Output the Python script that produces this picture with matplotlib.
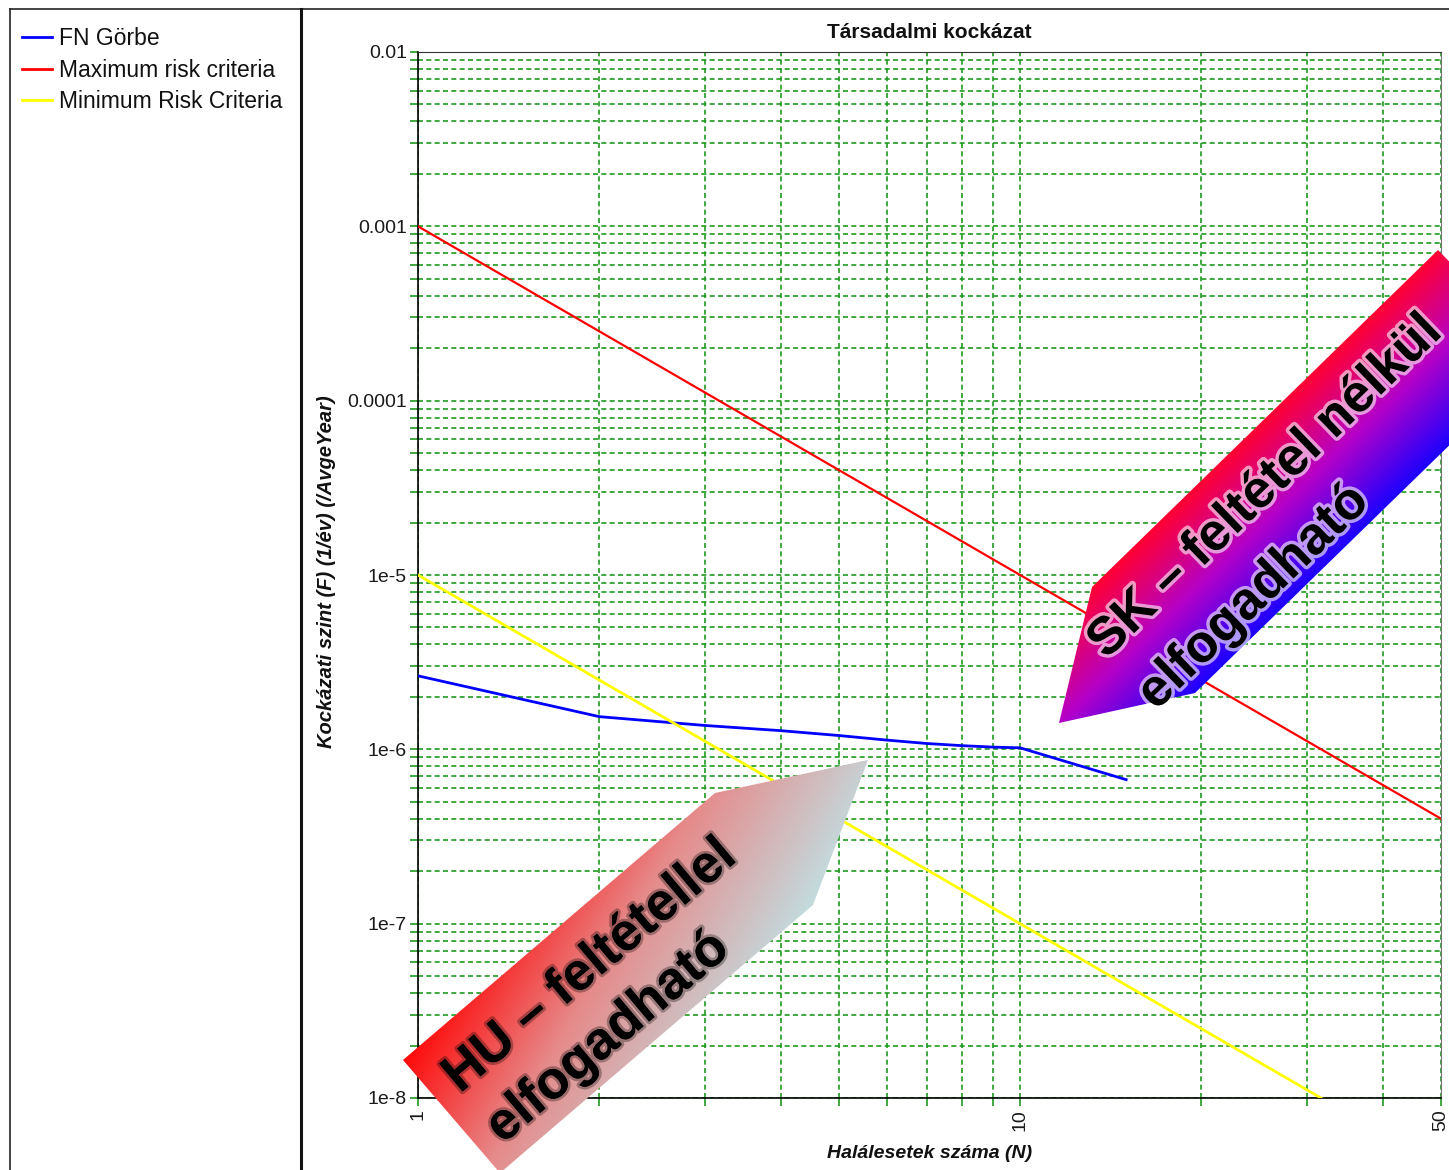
import numpy as np
import matplotlib
matplotlib.use('Agg')
import matplotlib.pyplot as plt
from matplotlib.patches import Polygon
from matplotlib.colors import LinearSegmentedColormap
from matplotlib.ticker import LogLocator, NullFormatter
import matplotlib.patheffects as pe

plt.rcParams['font.family'] = ['Liberation Sans', 'DejaVu Sans']

# FN curve and criteria lines
fn_N = [1, 2, 3, 4, 5, 6, 7, 8, 9, 10, 15]
fn_F = [2.64e-6, 1.54e-6, 1.37e-6, 1.28e-6, 1.2e-6, 1.13e-6, 1.08e-6, 1.05e-6, 1.03e-6, 1.02e-6, 6.7e-7]
max_N = [1, 50]
max_F = [1e-3, 4e-7]
min_N = [1, 31.6]
min_F = [1e-5, 1e-8]

series_names = ['FN Görbe', 'Maximum risk criteria', 'Minimum Risk Criteria']
series_colors = ['#0000ff', '#ff0000', '#ffff00']

x_ticks = [1, 10, 50]
x_ticklabels = ['1', '10', '50']
y_ticks = [1e-8, 1e-7, 1e-6, 1e-5, 1e-4, 1e-3, 1e-2]
y_ticklabels = ['1e-8', '1e-7', '1e-6', '1e-5', '0.0001', '0.001', '0.01']

title = 'Társadalmi kockázat'
x_label = 'Halálesetek száma (N)'
y_label = 'Kockázati szint (F) (1/év) (/AvgeYear)'
sk_text = 'SK – feltétel nélkül\nelfogadható'
hu_text = 'HU – feltétellel\nelfogadható'

W, H = 1449, 1170
green = '#1f9a1f'
fig = plt.figure(figsize=(W / 100, H / 100), dpi=100)

ax = fig.add_axes([418 / W, 1 - 1098 / H, (1441 - 418) / W, (1098 - 52) / H])
ax.set_xscale('log')
ax.set_yscale('log')

ax.plot(fn_N, fn_F, color=series_colors[0], lw=2.0, zorder=3)
ax.plot(max_N, max_F, color=series_colors[1], lw=1.6, zorder=3)
ax.plot(min_N, min_F, color=series_colors[2], lw=2.0, zorder=3)

ax.set_xlim(1, 50)
ax.set_ylim(1e-8, 1e-2)
ax.xaxis.set_minor_locator(LogLocator(base=10, subs=np.arange(2, 10), numticks=30))
ax.yaxis.set_minor_locator(LogLocator(base=10, subs=np.arange(2, 10), numticks=30))
ax.xaxis.set_minor_formatter(NullFormatter())
ax.yaxis.set_minor_formatter(NullFormatter())
ax.set_xticks(x_ticks)
ax.set_xticklabels(x_ticklabels, rotation=90)
ax.set_yticks(y_ticks)
ax.set_yticklabels(y_ticklabels)

ax.grid(which='both', color=green, linestyle=(0, (3, 2)), linewidth=1.2)
ax.set_axisbelow(True)
ax.tick_params(which='both', direction='out', color=green, length=6, width=1.2,
               labelsize=14, labelcolor='#1a1a1a', pad=2)

for s in ['left', 'bottom']:
    ax.spines[s].set_color('black')
    ax.spines[s].set_linewidth(1.2)
ax.spines['top'].set_color('#333333')
ax.spines['right'].set_color('#777777')

ax.set_title(title, fontsize=15, fontweight='bold', pad=10, color='#111111')
ax.set_xlabel(x_label, fontsize=14, fontweight='bold', style='italic', color='#111111')
ax.xaxis.set_label_coords(0.5, -0.045)
ax.set_ylabel(y_label, fontsize=14.5, fontweight='bold', style='italic', color='#111111')
ax.yaxis.set_label_coords(-0.08, 0.503)

# overlay in figure pixels for panel frames, legend and arrows
ov = fig.add_axes([0, 0, 1, 1], zorder=10)
ov.patch.set_alpha(0)
ov.axis('off')

ov.plot([10, 10], [9, H], color='#222222', lw=1.2)
ov.plot([10, W], [9, 9], color='#222222', lw=1.2)
ov.plot([301, 301], [9, H], color='#111111', lw=2.2)

for i, (name, c) in enumerate(zip(series_names, series_colors)):
    y = 37 + i * 31.7
    ov.plot([22, 52], [y, y], color=c, lw=2)
    ov.text(59, y + 8, name, fontsize=16.5, va='baseline', ha='left', color='#111111')


def gradient_arrow(verts, origin, angle, span, cmap):
    verts = np.array(verts, float)
    x0, y0 = np.floor(verts.min(0))
    x1, y1 = np.ceil(verts.max(0))
    xx, yy = np.meshgrid(np.arange(x0, x1 + 1), np.arange(y0, y1 + 1))
    a = np.deg2rad(angle)
    t = ((xx - origin[0]) * np.cos(a) + (yy - origin[1]) * np.sin(a)) / span
    img = cmap(np.clip(t, 0, 1))
    im = ov.imshow(img, extent=(x0, x1 + 1, y1 + 1, y0), origin='upper',
                   interpolation='bilinear', zorder=3)
    poly = Polygon(verts, closed=True, facecolor='none', edgecolor='none')
    ov.add_patch(poly)
    im.set_clip_path(poly)


sk_cmap = LinearSegmentedColormap.from_list('sk', ['#ff0033', '#b400c8', '#1a00ff'])
hu_cmap = LinearSegmentedColormap.from_list('hu', [(0, '#ff0a0a'), (0.45, '#e68a8a'), (1, '#c2dde0')])

gradient_arrow([(1059, 723), (1092, 587), (1438, 250), (1541, 356), (1195, 693)],
               (1092, 587), 45.7, 148, sk_cmap)
gradient_arrow([(403, 1060), (715, 793), (868, 760), (813, 905), (500, 1173)],
               (403, 1060), 30, 280, hu_cmap)

# va='baseline' on multi-line text anchors the last line
ov.text(1141, 696, sk_text, rotation=44, rotation_mode='anchor', ha='left', va='baseline',
        fontsize=38, fontweight='bold', color='black', linespacing=1.55, zorder=5,
        path_effects=[pe.withStroke(linewidth=5, foreground=(1, 1, 1, 0.6))])
ov.text(492, 1132, hu_text, rotation=40, rotation_mode='anchor', ha='left', va='baseline',
        fontsize=38, fontweight='bold', color='black', linespacing=1.42, zorder=5,
        path_effects=[pe.withStroke(linewidth=4, foreground=(0, 0, 0, 0.3))])

ov.set_xlim(0, W)
ov.set_ylim(H, 0)
ov.set_aspect('auto')

fig.savefig('out.png', dpi=100)
